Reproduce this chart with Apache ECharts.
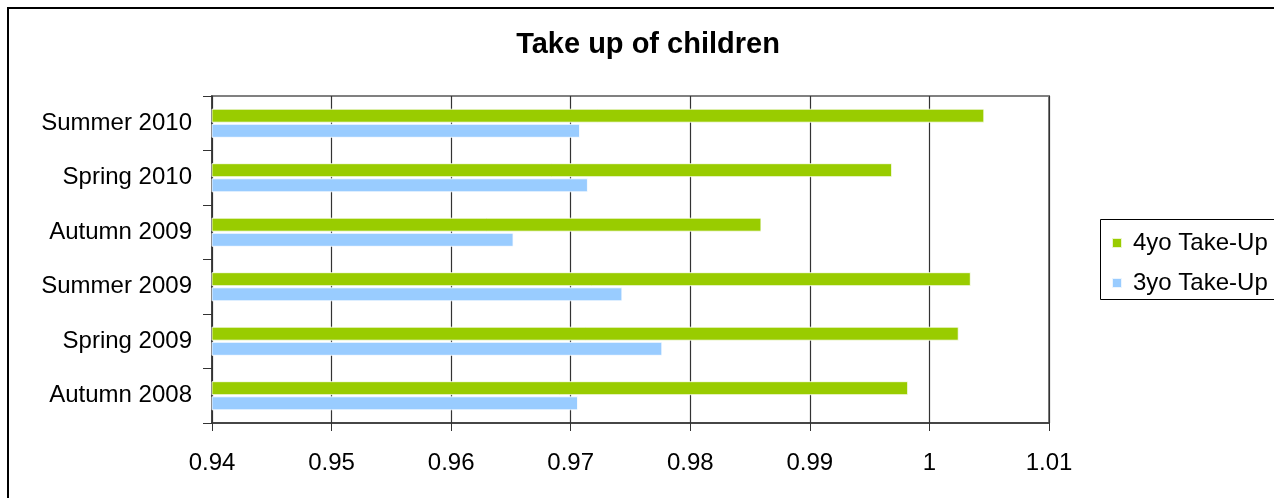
<!DOCTYPE html>
<html>
<head>
<meta charset="utf-8">
<title>Take up of children</title>
<script src="https://cdn.jsdelivr.net/npm/echarts@6/dist/echarts.min.js"></script>
<style>
  html, body { margin: 0; padding: 0; background: #fff; }
  #chart { width: 1274px; height: 498px; }
</style>
</head>
<body>
<div id="chart"></div>
<script>
// Terms, listed bottom to top as they appear on the category axis
const terms = ['Autumn 2008', 'Spring 2009', 'Summer 2009', 'Autumn 2009', 'Spring 2010', 'Summer 2010'];

// Take-up rates per term
const takeUp4yo = [0.99822, 1.00245, 1.00346, 0.98595, 0.99688, 1.00459];
const takeUp3yo = [0.97061, 0.97766, 0.97432, 0.96522, 0.97144, 0.97078];

// Value axis range and step
const axisMin = 0.94;
const axisMax = 1.01;
const axisStep = 0.01;

const FONT = '"Liberation Sans", Arial, sans-serif';

const chart = echarts.init(document.getElementById('chart'), null, { renderer: 'canvas' });

chart.setOption({
  backgroundColor: '#ffffff',
  animation: false,
  graphic: [
    // outer chart frame, running off the right and bottom edges
    {
      type: 'rect',
      shape: { x: 8, y: 8, width: 1400, height: 600 },
      style: { fill: 'none', stroke: '#000000', lineWidth: 2 },
      silent: true,
      z: -10
    },
    // legend frame, also running past the right edge
    {
      type: 'rect',
      shape: { x: 1100.5, y: 219.5, width: 300, height: 80 },
      style: { fill: '#ffffff', stroke: '#000000', lineWidth: 1 },
      silent: true,
      z: -5
    },
    {
      type: 'text',
      x: 648,
      y: 45,
      style: {
        text: 'Take up of children',
        fontFamily: FONT,
        fontWeight: 'bold',
        fontSize: 29,
        fill: '#000000',
        align: 'center',
        verticalAlign: 'middle'
      }
    }
  ],
  grid: {
    left: 212,
    right: 225,
    top: 96,
    bottom: 75,
    show: true,
    borderColor: '#808080',
    borderWidth: 2,
    backgroundColor: 'transparent'
  },
  legend: {
    orient: 'vertical',
    left: 1100,
    top: 219,
    data: ['4yo Take-Up', '3yo Take-Up'],
    icon: 'rect',
    itemWidth: 10,
    itemHeight: 10,
    itemGap: 14,
    padding: [11, 2, 5, 11],
    borderWidth: 0,
    textStyle: {
      fontFamily: FONT,
      fontSize: 24,
      color: '#000000',
      lineHeight: 26,
      padding: [0, 0, 0, 6]
    }
  },
  xAxis: {
    type: 'value',
    min: axisMin,
    max: axisMax,
    interval: axisStep,
    axisLine: { show: true, onZero: false, lineStyle: { color: '#333333', width: 1.5 } },
    axisTick: { show: true, length: 8, lineStyle: { color: '#333333', width: 1 } },
    axisLabel: {
      fontFamily: FONT,
      fontSize: 24,
      color: '#000000',
      margin: 28
    },
    splitLine: { show: true, lineStyle: { color: '#333333', width: 1.2 } }
  },
  yAxis: {
    type: 'category',
    data: terms,
    axisLine: { show: true, lineStyle: { color: '#333333', width: 1.5 } },
    axisTick: { show: true, length: 9, lineStyle: { color: '#333333', width: 1 } },
    axisLabel: {
      fontFamily: FONT,
      fontSize: 24,
      color: '#000000',
      margin: 20
    },
    splitLine: { show: false }
  },
  series: [
    {
      name: '4yo Take-Up',
      type: 'bar',
      data: takeUp4yo,
      barWidth: 14,
      barGap: '8%',
      itemStyle: { color: '#99CC00', borderColor: 'rgba(255,255,255,0.8)', borderWidth: 1 },
      z: 3
    },
    {
      name: '3yo Take-Up',
      type: 'bar',
      data: takeUp3yo,
      barWidth: 14,
      barGap: '8%',
      itemStyle: { color: '#99CCFF', borderColor: 'rgba(255,255,255,0.8)', borderWidth: 1 },
      z: 3
    }
  ]
});
</script>
</body>
</html>
